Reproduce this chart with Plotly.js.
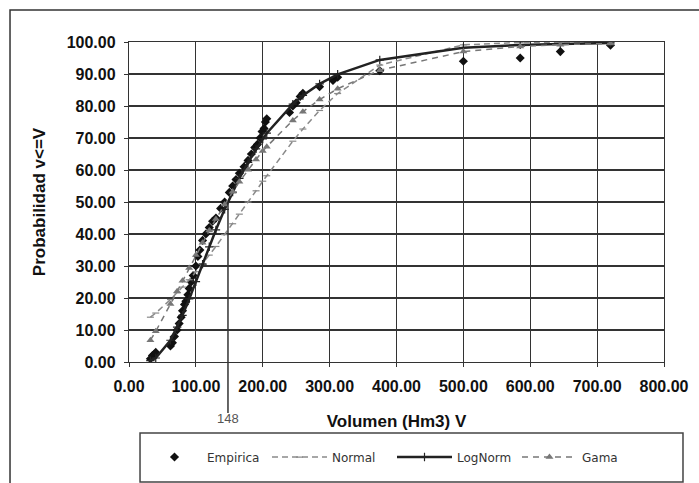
<!DOCTYPE html>
<html><head><meta charset="utf-8">
<script src="https://cdn.plot.ly/plotly-3.0.1.min.js"></script>
<style>html,body{margin:0;padding:0;background:#fff;}#chart{width:699px;height:483px;}</style>
</head><body><div id="chart"></div>
<script>
// Empirical observations (volume Hm3, probability %)
const empX = [32,35,38,40,62,65,68,72,75,78,80,83,85,88,90,93,96,100,103,106,110,115,120,125,130,137,143,150,155,160,165,172,178,183,188,192,196,199,202,204,206,240,245,250,256,260,285,305,312,375,500,585,645,720];
const empY = [1,2,2.5,3,5,6,8,10,12,14,16,18,19,21,23,25,27,30,33,35,38,40,42,44,45,48,50,53,55,57,59,61,63,65,67,68,70,72,73,75,76,78,80,81,83,84,86,88,89,91,94,95,97,99];
// Fitted distributions evaluated at these volumes
const fitX = [32,40,62,72,80,90,100,110,120,130,143,155,165,178,190,200,206,245,260,285,312,375,500,585,645,720];
const normalY = [14.0,15.3,19.5,21.6,23.4,25.7,28.2,30.7,33.4,36.1,39.8,43.2,46.2,50.0,53.5,56.5,58.2,69.0,72.8,78.6,83.9,92.8,99.1,99.87,99.97,100.0];
const logNormY = [0.44,1.25,6.8,10.9,14.6,19.7,25.1,30.6,36.0,41.3,47.7,53.1,57.4,62.4,66.6,69.7,71.5,80.6,83.3,86.9,89.9,94.4,98.2,99.1,99.4,99.7];
const gamaY = [6.8,9.6,18.1,22.1,25.4,29.4,33.4,37.3,41.1,44.7,49.2,53.2,56.3,60.1,63.3,65.9,67.3,75.5,78.2,82.0,85.4,91.2,97.0,98.6,99.15,99.56];
const seriesNames = ["Empirica","Normal","LogNorm","Gama"];
// Reference mark: median volume
const medianVolume = [148];
const medianProb = [50];
const medianLabel = ["148"];

const F = "Liberation Sans, Arial, sans-serif";
const traces = [
  {x: empX, y: empY, name: seriesNames[0], type: "scatter", mode: "markers",
   marker: {symbol: "diamond", size: 7, color: "#111"}},
  {x: fitX, y: normalY, name: seriesNames[1], type: "scatter", mode: "lines+markers",
   line: {color: "#8a8a8a", width: 1.5, dash: "6px,4px"},
   marker: {symbol: "line-ew-open", size: 5, color: "#8a8a8a", line: {width: 1.2, color: "#8a8a8a"}}},
  {x: fitX, y: logNormY, name: seriesNames[2], type: "scatter", mode: "lines+markers",
   line: {color: "#222", width: 2.5},
   marker: {symbol: "cross-thin-open", size: 6, color: "#222", line: {width: 1.2, color: "#222"}}},
  {x: fitX, y: gamaY, name: seriesNames[3], type: "scatter", mode: "lines+markers",
   line: {color: "#777", width: 1.5, dash: "6px,5px"},
   marker: {symbol: "triangle-up", size: 7, color: "#777"}}
];

const ax = {
  showgrid: true, gridcolor: "#333", gridwidth: 1.2,
  showline: true, linecolor: "#333", linewidth: 1.2, mirror: true,
  ticks: "outside", ticklen: 4, tickcolor: "#333",
  tickformat: ".2f", zeroline: false,
  tickfont: {family: F, size: 16, color: "#111", weight: "bold"}
};

const layout = {
  width: 699, height: 483,
  margin: {l: 129, r: 35, t: 42, b: 121},
  paper_bgcolor: "#fff", plot_bgcolor: "#fff",
  xaxis: Object.assign({}, ax, {range: [0, 800], dtick: 100, tick0: 0, ticklabelstandoff: 6,
    title: {text: "Volumen (Hm3) V", font: {family: F, size: 17, color: "#111", weight: "bold"}, standoff: 20}}),
  yaxis: Object.assign({}, ax, {range: [0, 100], dtick: 10, tick0: 0, ticklabelstandoff: 5,
    title: {text: "Probabilidad v<=V", font: {family: F, size: 17, color: "#111", weight: "bold"}, standoff: 16}}),
  showlegend: true,
  legend: {orientation: "h", x: 0.0243, y: -0.297, xanchor: "left", yanchor: "middle",
    bgcolor: "rgba(0,0,0,0)", borderwidth: 0, itemwidth: 55, entrywidth: 55,
    font: {family: "DejaVu Sans, sans-serif", size: 12, color: "#333"}},
  shapes: [
    {type: "rect", xref: "paper", yref: "paper", x0: -0.2224, x1: 1.2, y0: -1, y1: 1.1,
     line: {color: "#333", width: 1.5}, fillcolor: "rgba(0,0,0,0)", layer: "below"},
    {type: "rect", xref: "paper", yref: "paper", x0: 0.0206, x1: 1.0355, y0: -0.375, y1: -0.222,
     line: {color: "#444", width: 1.5}, fillcolor: "rgba(0,0,0,0)"},
    {type: "line", xref: "x", yref: "paper", x0: medianVolume[0], x1: medianVolume[0],
     y0: -0.159, y1: medianProb[0] / 100, line: {color: "#333", width: 1.5}}
  ],
  annotations: [
    {x: medianVolume[0], xref: "x", y: -0.206, yref: "paper", text: medianLabel[0],
     showarrow: false, font: {family: F, size: 13, color: "#555"}}
  ]
};

Plotly.newPlot("chart", traces, layout, {staticPlot: true, displayModeBar: false});
</script></body></html>
